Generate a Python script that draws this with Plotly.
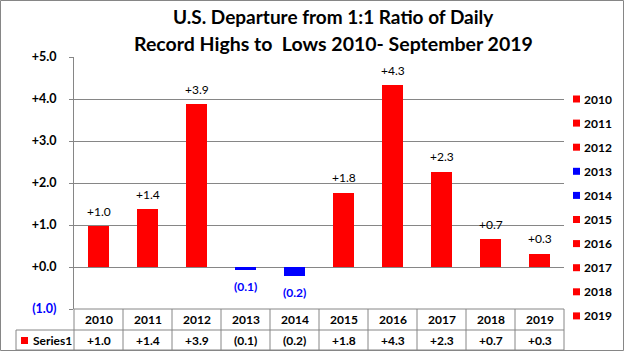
import plotly.graph_objects as go

years = ['2010', '2011', '2012', '2013', '2014', '2015', '2016', '2017', '2018', '2019']
values = [0.97, 1.37, 3.87, -0.08, -0.22, 1.77, 4.33, 2.27, 0.66, 0.32]
series_name = 'Series1'
ytick_vals = [-1, 0, 1, 2, 3, 4, 5]

RED = '#FF0000'
BLUE = '#0000FF'
GRID = '#868686'
FONT = 'Lato'

W, H = 624, 351
L, R, T, B = 74, 60, 57, 42
PW, PH = W - L - R, H - T - B


def px(x):
    return (x - L) / PW


def py(y):
    return (H - B - y) / PH


def fmt(v):
    return '+%.1f' % v if v >= 0 else '(%.1f)' % abs(v)


colors = [RED if v >= 0 else BLUE for v in values]
labels = [fmt(v) for v in values]

fig = go.Figure()
fig.add_trace(go.Bar(
    x=years, y=values, marker=dict(color=colors, line=dict(width=0)),
    width=0.41, showlegend=False, hoverinfo='x+y',
))


def tick_text(v):
    s = fmt(v)
    if v < 0:
        return '<span style="color:%s"><b>%s</b></span>' % (BLUE, s)
    return '<b>%s</b>' % s


shapes = []
annotations = []

# data labels (x given as category index)
for i, (v, lab) in enumerate(zip(values, labels)):
    annotations.append(dict(xref='x', yref='y', x=i, y=v,
                            text=lab if v >= 0 else '<b>%s</b>' % lab, showarrow=False,
                            xanchor='center', yanchor='middle', yshift=15 if v >= 0 else -16,
                            font=dict(family=FONT, size=12, color='#000000' if v >= 0 else BLUE)))

# outer border
shapes.append(dict(type='rect', xref='paper', yref='paper',
                   x0=px(0.5), x1=px(W - 0.5), y0=py(H - 0.5), y1=py(0.5),
                   line=dict(color=GRID, width=1), fillcolor='rgba(0,0,0,0)'))

# data table
r1_top, r1_bot, r2_bot = H - B, 330, 350
tbl_left = 16
col_w = PW / len(years)
shapes.append(dict(type='line', xref='paper', yref='paper', x0=px(L), x1=px(L + PW),
                   y0=py(r1_top), y1=py(r1_top), line=dict(color=GRID, width=1)))
for yy in (r1_bot, r2_bot):
    shapes.append(dict(type='line', xref='paper', yref='paper', x0=px(tbl_left), x1=px(L + PW),
                       y0=py(yy), y1=py(yy), line=dict(color=GRID, width=1)))
shapes.append(dict(type='line', xref='paper', yref='paper', x0=px(tbl_left), x1=px(tbl_left),
                   y0=py(r1_bot), y1=py(r2_bot), line=dict(color=GRID, width=1)))
for k in range(len(years) + 1):
    xx = L + col_w * k
    shapes.append(dict(type='line', xref='paper', yref='paper', x0=px(xx), x1=px(xx),
                       y0=py(r1_top), y1=py(r2_bot), line=dict(color=GRID, width=1)))
for i, (yr, lab) in enumerate(zip(years, labels)):
    cx = L + col_w * (i + 0.5)
    annotations.append(dict(xref='paper', yref='paper', x=px(cx), y=py((r1_top + r1_bot) / 2),
                            text='<b>%s</b>' % yr, showarrow=False, xanchor='center', yanchor='middle',
                            font=dict(family=FONT, size=12, color='#000000')))
    annotations.append(dict(xref='paper', yref='paper', x=px(cx), y=py((r1_bot + r2_bot) / 2),
                            text='<b>%s</b>' % lab, showarrow=False, xanchor='center', yanchor='middle',
                            font=dict(family=FONT, size=12, color='#000000')))
# series key in table
shapes.append(dict(type='rect', xref='paper', yref='paper', x0=px(21), x1=px(28),
                   y0=py(344), y1=py(337), fillcolor=RED, line=dict(width=0)))
annotations.append(dict(xref='paper', yref='paper', x=px(31), y=py(340.5), text='<b>%s</b>' % series_name,
                        showarrow=False, xanchor='left', yanchor='middle',
                        font=dict(family=FONT, size=12, color='#000000')))

# legend
leg_top, leg_step = 99, 24.1
for i, (yr, c) in enumerate(zip(years, colors)):
    yy = leg_top + leg_step * i
    shapes.append(dict(type='rect', xref='paper', yref='paper', x0=px(573), x1=px(580),
                       y0=py(yy + 3.5), y1=py(yy - 3.5), fillcolor=c, line=dict(width=0)))
    annotations.append(dict(xref='paper', yref='paper', x=px(582), y=py(yy), text='<b>%s</b>' % yr,
                            showarrow=False, xanchor='left', yanchor='middle',
                            font=dict(family=FONT, size=12, color='#000000')))

# title
annotations.append(dict(xref='paper', yref='paper', x=px(333), y=py(30), yanchor='bottom',
                        text='<b>U.S. Departure from 1:1 Ratio of Daily</b>', showarrow=False,
                        font=dict(family=FONT, size=19, color='#000000')))
annotations.append(dict(xref='paper', yref='paper', x=px(333), y=py(57), yanchor='bottom',
                        text='<b>Record Highs to  Lows 2010- September 2019</b>', showarrow=False,
                        font=dict(family=FONT, size=19.5, color='#000000')))

fig.update_layout(
    width=W, height=H, margin=dict(l=L, r=R, t=T, b=B, pad=0),
    paper_bgcolor='white', plot_bgcolor='white',
    bargap=0, showlegend=False,
    shapes=shapes, annotations=annotations,
    xaxis=dict(type='category', range=[-0.5, 9.5], showticklabels=False, showgrid=False,
               zeroline=False, showline=False, ticks=''),
    yaxis=dict(range=[-1, 5], tickvals=ytick_vals, ticktext=[tick_text(v) for v in ytick_vals],
               showgrid=True, gridcolor=GRID, gridwidth=1, zeroline=True, zerolinecolor=GRID,
               zerolinewidth=1, showline=True, linecolor=GRID, linewidth=1,
               ticks='outside', ticklen=4, tickcolor=GRID, ticklabelstandoff=10,
               tickfont=dict(family=FONT, size=12.5, color='#000000')),
)

fig.write_html('out.html')
